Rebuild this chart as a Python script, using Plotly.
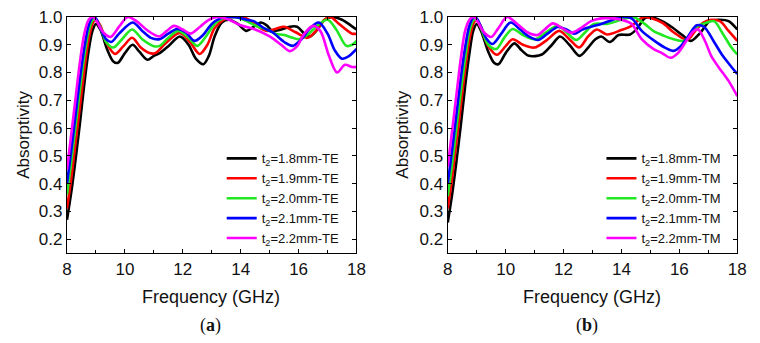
import plotly.graph_objects as go

# ---------------- data ----------------
labels_te = ["t<sub>2</sub>=1.8mm-TE", "t<sub>2</sub>=1.9mm-TE", "t<sub>2</sub>=2.0mm-TE",
             "t<sub>2</sub>=2.1mm-TE", "t<sub>2</sub>=2.2mm-TE"]
labels_tm = ["t<sub>2</sub>=1.8mm-TM", "t<sub>2</sub>=1.9mm-TM", "t<sub>2</sub>=2.0mm-TM",
             "t<sub>2</sub>=2.1mm-TM", "t<sub>2</sub>=2.2mm-TM"]
colors = ["#000000", "#ff0000", "#22e822", "#0000ff", "#ff00ff"]

# TE, t2 = 1.8 mm
te18_f = [8.0, 8.15, 8.3, 8.45, 8.6, 8.75, 8.88, 9.0, 9.15, 9.4, 9.6, 9.76, 10.0, 10.27, 10.5, 10.78, 11.0, 11.2,
          11.5, 11.9, 12.2, 12.45, 12.71, 12.9, 13.1, 13.35, 13.6, 13.9, 14.2, 14.45, 14.7, 14.9, 15.1, 15.4,
          15.7, 15.95, 16.2, 16.4, 16.65, 16.9, 17.15, 17.5, 17.8, 18.0]
te18_a = [0.27, 0.37, 0.49, 0.62, 0.76, 0.88, 0.95, 0.975, 0.955, 0.88, 0.84, 0.835, 0.87, 0.90, 0.875, 0.846, 0.86, 0.87,
          0.895, 0.93, 0.90, 0.85, 0.83, 0.86, 0.93, 0.98, 0.99, 0.975, 0.95, 0.965, 0.98, 0.97, 0.95, 0.955,
          0.965, 0.965, 0.94, 0.93, 0.955, 0.99, 1.0, 0.99, 0.97, 0.955]
# TE, t2 = 1.9 mm
te19_f = [8.0, 8.15, 8.3, 8.45, 8.6, 8.75, 8.9, 9.0, 9.15, 9.4, 9.66, 9.95, 10.25, 10.55, 10.85, 11.05, 11.4, 11.9,
          12.25, 12.58, 12.85, 13.1, 13.4, 13.7, 14.0, 14.3, 14.6, 14.9, 15.2, 15.5, 15.9, 16.3, 16.6, 16.9,
          17.1, 17.4, 17.85, 18.0]
te19_a = [0.31, 0.42, 0.55, 0.68, 0.81, 0.92, 0.98, 0.99, 0.97, 0.90, 0.867, 0.895, 0.925, 0.89, 0.87, 0.87, 0.905, 0.943,
          0.91, 0.867, 0.90, 0.96, 0.99, 1.0, 1.0, 0.99, 0.965, 0.95, 0.957, 0.965, 0.945, 0.925, 0.95, 0.99,
          1.0, 0.975, 0.94, 0.94]
# TE, t2 = 2.0 mm
te20_f = [8.0, 8.15, 8.3, 8.45, 8.6, 8.75, 8.9, 9.0, 9.15, 9.35, 9.6, 9.9, 10.25, 10.6, 11.0, 11.2, 11.5, 11.85,
          12.2, 12.5, 12.8, 13.1, 13.4, 13.7, 14.0, 14.3, 14.6, 14.9, 15.2, 15.5, 15.8, 16.0, 16.3, 16.6,
          17.0, 17.3, 17.65, 17.85, 18.0]
te20_a = [0.36, 0.48, 0.61, 0.74, 0.86, 0.95, 0.99, 0.99, 0.965, 0.91, 0.89, 0.92, 0.955, 0.92, 0.895, 0.896, 0.925, 0.95,
          0.925, 0.896, 0.93, 0.975, 0.995, 1.0, 0.995, 0.98, 0.965, 0.955, 0.94, 0.935, 0.925, 0.92, 0.935, 0.965,
          0.99, 0.955, 0.896, 0.90, 0.914]
# TE, t2 = 2.1 mm
te21_f = [8.0, 8.15, 8.3, 8.45, 8.6, 8.75, 8.9, 9.0, 9.15, 9.35, 9.53, 9.8, 10.27, 10.6, 10.9, 11.2, 11.5, 11.8,
          12.1, 12.4, 12.7, 13.0, 13.3, 13.6, 13.9, 14.2, 14.45, 14.8, 15.1, 15.5, 15.8, 16.1, 16.4, 16.7,
          17.0, 17.25, 17.5, 17.75, 18.0]
te21_a = [0.40, 0.52, 0.65, 0.78, 0.89, 0.97, 1.0, 0.995, 0.96, 0.92, 0.91, 0.94, 0.98, 0.95, 0.925, 0.92, 0.94, 0.957,
          0.945, 0.914, 0.935, 0.975, 0.995, 1.0, 0.998, 0.99, 0.985, 0.96, 0.945, 0.91, 0.896, 0.92, 0.96, 0.98,
          0.94, 0.88, 0.85, 0.86, 0.885]
# TE, t2 = 2.2 mm
te22_f = [8.0, 8.15, 8.3, 8.45, 8.6, 8.75, 8.9, 9.05, 9.25, 9.5, 9.8, 10.1, 10.4, 10.8, 11.19, 11.45, 11.7, 12.0,
          12.27, 12.6, 12.9, 13.2, 13.6, 14.0, 14.5, 15.0, 15.4, 15.7, 15.95, 16.2, 16.5, 16.75, 17.05, 17.33,
          17.6, 17.85, 18.0]
te22_a = [0.45, 0.58, 0.71, 0.84, 0.94, 0.99, 1.0, 0.98, 0.945, 0.928, 0.965, 1.0, 0.985, 0.95, 0.93, 0.95, 0.968, 0.955,
          0.94, 0.965, 0.99, 1.0, 0.99, 0.97, 0.955, 0.93, 0.90, 0.877, 0.895, 0.94, 0.968, 0.95, 0.86, 0.80,
          0.828, 0.82, 0.82]

# TM, t2 = 1.8 mm
tm18_f = [8.0, 8.15, 8.3, 8.45, 8.6, 8.75, 8.88, 9.0, 9.15, 9.4, 9.6, 9.75, 10.0, 10.3, 10.55, 10.8, 11.25, 11.6,
          11.88, 12.2, 12.55, 12.85, 13.1, 13.3, 13.6, 13.9, 14.3, 14.55, 14.8, 15.0, 15.4, 15.76, 16.1, 16.4,
          16.7, 17.05, 17.4, 17.7, 18.0]
tm18_a = [0.26, 0.36, 0.48, 0.61, 0.75, 0.87, 0.95, 0.975, 0.95, 0.875, 0.835, 0.83, 0.87, 0.905, 0.88, 0.86, 0.865, 0.90,
          0.93, 0.90, 0.86, 0.89, 0.92, 0.93, 0.91, 0.935, 0.937, 0.96, 0.995, 1.0, 0.985, 0.962, 0.935, 0.914,
          0.94, 0.985, 0.99, 0.985, 0.955]
# TM, t2 = 1.9 mm
tm19_f = [8.0, 8.15, 8.3, 8.45, 8.6, 8.75, 8.9, 9.0, 9.15, 9.4, 9.7, 10.0, 10.24, 10.6, 11.0, 11.4, 11.85, 12.2,
          12.54, 12.85, 13.15, 13.5, 13.97, 14.35, 14.6, 14.8, 15.4, 15.8, 16.27, 16.55, 16.83, 17.1, 17.4, 17.7,
          18.0]
tm19_a = [0.31, 0.42, 0.55, 0.68, 0.81, 0.92, 0.98, 0.99, 0.965, 0.895, 0.864, 0.895, 0.92, 0.90, 0.89, 0.915, 0.95, 0.92,
          0.89, 0.93, 0.955, 0.937, 0.952, 0.968, 0.99, 1.0, 0.98, 0.945, 0.918, 0.95, 0.98, 0.99, 0.985, 0.95,
          0.914]
# TM, t2 = 2.0 mm
tm20_f = [8.0, 8.15, 8.3, 8.45, 8.6, 8.75, 8.9, 9.0, 9.15, 9.4, 9.68, 9.95, 10.24, 10.6, 11.0, 11.4, 11.8, 12.1,
          12.44, 12.75, 13.05, 13.5, 14.0, 14.4, 14.8, 15.1, 15.48, 15.8, 16.15, 16.4, 16.65, 16.95, 17.2, 17.5,
          17.8, 18.0]
tm20_a = [0.355, 0.47, 0.60, 0.73, 0.85, 0.95, 0.99, 0.99, 0.96, 0.90, 0.885, 0.925, 0.957, 0.935, 0.92, 0.945, 0.968, 0.945,
          0.917, 0.945, 0.975, 0.975, 0.99, 1.0, 0.975, 0.95, 0.932, 0.92, 0.914, 0.94, 0.968, 0.98, 0.985, 0.94,
          0.89, 0.865]
# TM, t2 = 2.1 mm
tm21_f = [8.0, 8.15, 8.3, 8.45, 8.6, 8.75, 8.9, 9.0, 9.15, 9.35, 9.55, 9.85, 10.17, 10.5, 10.8, 11.12, 11.45, 11.8,
          12.1, 12.37, 12.65, 12.95, 13.3, 13.7, 14.0, 14.35, 14.7, 15.14, 15.5, 15.8, 16.05, 16.3, 16.6, 16.85,
          17.2, 17.5, 17.8, 18.0]
tm21_a = [0.40, 0.52, 0.65, 0.78, 0.89, 0.97, 1.0, 0.995, 0.965, 0.92, 0.903, 0.94, 0.98, 0.955, 0.93, 0.917, 0.94, 0.964,
          0.955, 0.94, 0.955, 0.965, 0.975, 0.99, 1.0, 0.995, 0.95, 0.914, 0.89, 0.878, 0.895, 0.93, 0.97, 0.965,
          0.91, 0.86, 0.82, 0.795]
# TM, t2 = 2.2 mm
tm22_f = [8.0, 8.15, 8.3, 8.45, 8.6, 8.75, 8.9, 9.05, 9.25, 9.5, 9.75, 10.05, 10.4, 10.75, 11.1, 11.35, 11.63, 11.95,
          12.27, 12.6, 12.95, 13.3, 13.7, 14.0, 14.35, 14.7, 15.1, 15.4, 15.7, 15.95, 16.25, 16.5, 16.65, 16.9,
          17.1, 17.35, 17.7, 18.0]
tm22_a = [0.46, 0.59, 0.72, 0.85, 0.95, 0.99, 1.0, 0.98, 0.945, 0.928, 0.96, 1.0, 0.975, 0.945, 0.935, 0.955, 0.977, 0.96,
          0.943, 0.96, 0.985, 0.995, 0.995, 0.99, 0.975, 0.92, 0.885, 0.87, 0.853, 0.87, 0.915, 0.95, 0.955, 0.91,
          0.86, 0.82, 0.77, 0.715]

te_f = [te18_f, te19_f, te20_f, te21_f, te22_f]
te_a = [te18_a, te19_a, te20_a, te21_a, te22_a]
tm_f = [tm18_f, tm19_f, tm20_f, tm21_f, tm22_f]
tm_a = [tm18_a, tm19_a, tm20_a, tm21_a, tm22_a]

x_ticks = [8, 10, 12, 14, 16, 18]
y_ticks = [0.2, 0.3, 0.4, 0.5, 0.6, 0.7, 0.8, 0.9, 1.0]

# ---------------- figure ----------------
# the page body has an 8px margin, so the figure is drawn 8px in from the window corner
OFF = 8
W, H = 760 - OFF, 343 - OFF
def px(x):
    return x - OFF

plot_top, plot_bot = px(16), px(253)

fig = go.Figure()
for i in range(5):
    fig.add_trace(go.Scatter(x=te_f[i], y=te_a[i], mode="lines", name=labels_te[i],
                             line=dict(color=colors[i], width=2.6, shape="spline", smoothing=0.9),
                             xaxis="x", yaxis="y", legend="legend"))
for i in range(5):
    fig.add_trace(go.Scatter(x=tm_f[i], y=tm_a[i], mode="lines", name=labels_tm[i],
                             line=dict(color=colors[i], width=2.6, shape="spline", smoothing=0.9),
                             xaxis="x2", yaxis="y2", legend="legend2"))

font_family = "Liberation Sans, Arial, sans-serif"
axis_common = dict(showline=True, linecolor="black", linewidth=1.3, mirror="ticks",
                   ticks="inside", ticklen=4, tickwidth=1.1, tickcolor="black",
                   showgrid=False, zeroline=False, ticklabeloverflow="allow",
                   tickfont=dict(family=font_family, size=17, color="#111"))

xa = dict(axis_common, range=[8, 18], tickvals=x_ticks,
          minor=dict(dtick=1, tick0=8, ticks="inside", ticklen=2.5, tickcolor="black", showgrid=False))
ya = dict(axis_common, range=[0.15, 1.0], tickvals=y_ticks, tickformat=".1f")

leg_top = (plot_bot - px(143)) / (plot_bot - plot_top)
fig.update_layout(
    width=W, height=H,
    margin=dict(l=0, r=0, t=plot_top, b=H - plot_bot),
    paper_bgcolor="white", plot_bgcolor="white",
    xaxis=dict(xa, domain=[px(63) / W, px(358) / W], anchor="y"),
    yaxis=dict(ya, domain=[0, 1], anchor="x"),
    xaxis2=dict(xa, domain=[px(451) / W, px(746) / W], anchor="y2"),
    yaxis2=dict(ya, domain=[0, 1], anchor="x2"),
    legend=dict(x=px(346) / W, xanchor="right", y=leg_top, yanchor="top",
                bgcolor="rgba(0,0,0,0)", font=dict(family=font_family, size=13, color="#111"),
                tracegroupgap=0, itemwidth=30),
    legend2=dict(x=px(735) / W, xanchor="right", y=leg_top, yanchor="top",
                 bgcolor="rgba(0,0,0,0)", font=dict(family=font_family, size=13, color="#111"),
                 tracegroupgap=0, itemwidth=30),
    showlegend=True,
)

ann = []
for cx in [210, 598]:
    ann.append(dict(text="Frequency (GHz)", x=cx, y=297, size=18,
                    family=font_family, angle=0))
for cx, lab in [(209, "a"), (593, "b")]:
    ann.append(dict(text="(<b>%s</b>)" % lab, x=cx, y=326, size=18,
                    family="Liberation Serif, Times New Roman, serif", angle=0))
for cx in [18, 404]:
    ann.append(dict(text="Absorptivity", x=cx, y=134.5, size=17,
                    family=font_family, angle=-90))

annotations = []
for a in ann:
    annotations.append(dict(
        text=a["text"], x=px(a["x"]) / W, y=(plot_bot - px(a["y"])) / (plot_bot - plot_top),
        xref="paper", yref="paper", xanchor="center", yanchor="middle", showarrow=False,
        textangle=a["angle"], font=dict(family=a["family"], size=a["size"], color="#111")))
fig.update_layout(annotations=annotations)

fig.write_html("out.html")
